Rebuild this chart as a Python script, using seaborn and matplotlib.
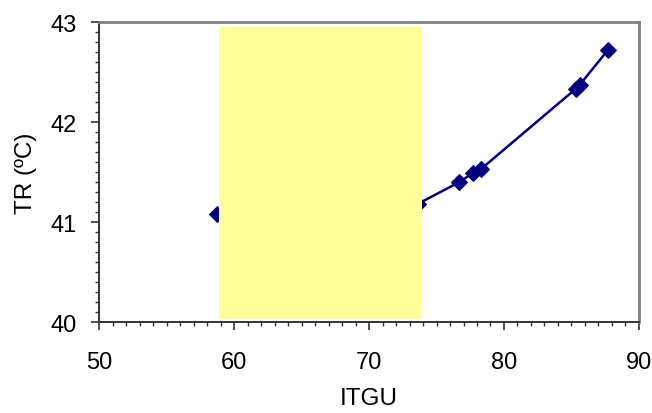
import matplotlib
matplotlib.use("Agg")
import matplotlib.pyplot as plt
import seaborn as sns
import pandas as pd
from matplotlib.ticker import MultipleLocator
from matplotlib.patches import Rectangle

itgu = [58.7, 73.6, 76.7, 77.7, 78.3, 85.3, 85.6, 87.7]
tr = [41.08, 41.18, 41.40, 41.49, 41.53, 42.33, 42.37, 42.72]
band_x = [58.9, 73.9]
band_y = [40.03, 42.95]

sns.set_theme(style="white")
plt.rcParams['font.family'] = ['Liberation Sans', 'DejaVu Sans']

df = pd.DataFrame({"ITGU": itgu, "TR": tr})

fig = plt.figure(figsize=(6.52, 4.14), dpi=100)
ax = fig.add_axes([0.152, 0.2198, 0.828, 0.7246])

sns.lineplot(data=df, x="ITGU", y="TR", ax=ax, color="#000080", linewidth=1.8,
             marker="D", markersize=8.5, markeredgecolor="#000080", sort=False, zorder=2)

ax.add_patch(Rectangle((band_x[0], band_y[0]), band_x[1] - band_x[0], band_y[1] - band_y[0],
                       facecolor="#FFFF99", edgecolor="none", zorder=3))

ax.set_xlim(50, 90)
ax.set_ylim(40, 43)
ax.xaxis.set_major_locator(MultipleLocator(10))
ax.xaxis.set_minor_locator(MultipleLocator(1))
ax.yaxis.set_major_locator(MultipleLocator(1))
ax.yaxis.set_minor_locator(MultipleLocator(0.1))
ax.tick_params(which="major", direction="out", length=6, width=1.2, color="#333333",
               labelsize=17, labelcolor="black", bottom=True, left=True)
ax.tick_params(which="minor", direction="out", length=3, width=1.0, color="#333333",
               bottom=True, left=True)
ax.tick_params(axis="x", which="major", pad=15)
ax.tick_params(axis="y", which="major", pad=10)

for s in ["left", "bottom"]:
    ax.spines[s].set_color("#333333")
    ax.spines[s].set_linewidth(1.4)
for s in ["top", "right"]:
    ax.spines[s].set_color("#808080")
    ax.spines[s].set_linewidth(2)

ax.set_xlabel("ITGU", fontsize=17.5, labelpad=10, color="black")
ax.set_ylabel("TR (ºC)", fontsize=17.5, labelpad=10, color="black")

fig.savefig("out.png", dpi=100)
